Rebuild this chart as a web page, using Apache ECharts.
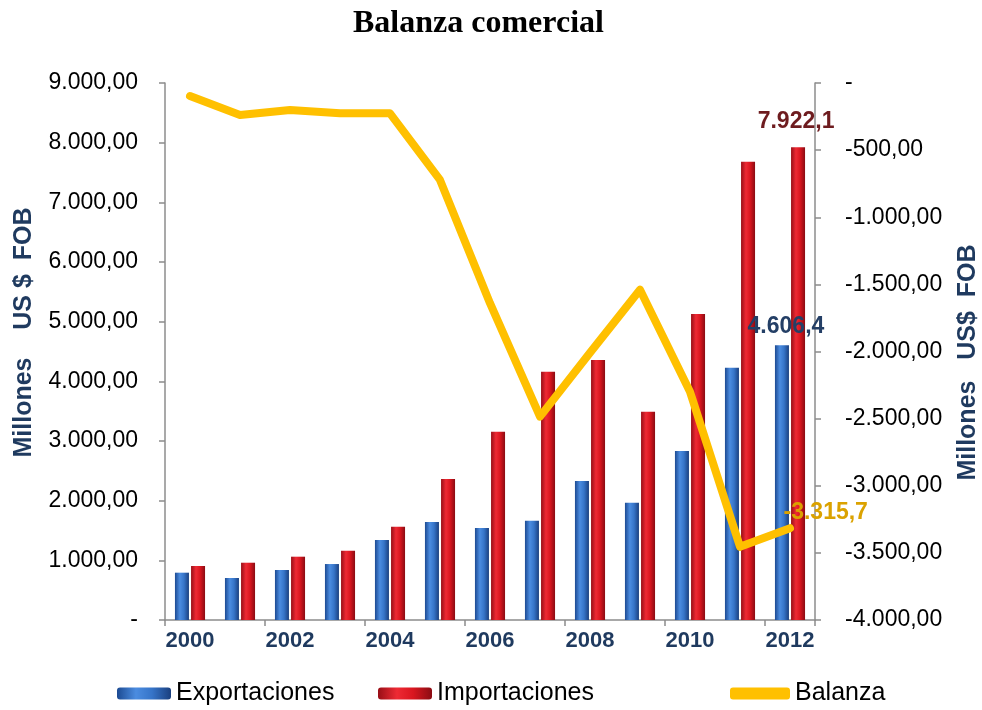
<!DOCTYPE html>
<html>
<head>
<meta charset="utf-8">
<script src="https://cdn.jsdelivr.net/npm/echarts@6/dist/echarts.min.js"></script>
<style>html,body{margin:0;padding:0;background:#fff;}#c{width:982px;height:710px;}</style>
</head>
<body>
<div id="c"></div>
<script>
var years = ['2000','2001','2002','2003','2004','2005','2006','2007','2008','2009','2010','2011','2012'];
var exportaciones = [793, 704, 838, 938, 1341, 1642, 1542, 1664, 2329, 1966, 2832, 4228, 4606.4];
var importaciones = [905, 960, 1061, 1162, 1564, 2363, 3156, 4161, 4357, 3490, 5128, 7681, 7922.1];
var balanza = [-97, -238, -201, -226, -226, -722, -1640, -2485, -2010, -1540, -2300, -3455, -3315.7];

function fmt(v, dec) {
  var neg = v < 0; v = Math.abs(v);
  var s = v.toFixed(dec).split('.');
  var ip = s[0].replace(/\B(?=(\d{3})+(?!\d))/g, '.');
  return (neg ? '-' : '') + ip + (dec > 0 ? ',' + s[1] : '');
}
function axisFmt(v) { return v === 0 ? '-' : fmt(v, 2); }

var G = echarts.graphic.LinearGradient;
var blueGrad = new G(0, 0, 1, 0, [
  {offset: 0, color: '#1c4a92'}, {offset: 0.35, color: '#4b8ce0'},
  {offset: 0.65, color: '#3674c8'}, {offset: 1, color: '#1a3f7e'}]);
var redGrad = new G(0, 0, 1, 0, [
  {offset: 0, color: '#980e16'}, {offset: 0.35, color: '#ee2a34'},
  {offset: 0.65, color: '#d9161f'}, {offset: 1, color: '#8a0c13'}]);

var last = years.length - 1;
function withLast(arr, label) {
  return arr.map(function (v, i) { return i === last ? {value: v, label: label} : v; });
}
var legText = {fontFamily: 'Liberation Sans', fontSize: 25, color: '#000'};

var chart = echarts.init(document.getElementById('c'));
chart.setOption({
  animation: false,
  title: {
    text: 'Balanza comercial', left: 353, top: 8, padding: 0,
    textStyle: {fontFamily: 'Liberation Serif', fontWeight: 'bold', fontSize: 32, color: '#000'}
  },
  legend: [
    {data: ['Exportaciones'], left: 117, top: 681, padding: 0, itemWidth: 54, itemHeight: 12, itemGap: 4, textStyle: legText},
    {data: ['Importaciones'], left: 378, top: 681, padding: 0, itemWidth: 54, itemHeight: 12, itemGap: 4, textStyle: legText},
    {data: ['Balanza'], left: 730, top: 681, padding: 0, itemWidth: 60, itemHeight: 12, itemGap: 4, icon: 'roundRect', textStyle: legText}
  ],
  grid: {left: 165, right: 167, top: 83, bottom: 90, containLabel: false, outerBoundsMode: 'none'},
  xAxis: {
    type: 'category', data: years, boundaryGap: true,
    axisLine: {lineStyle: {color: '#8c8c8c', width: 1.5}},
    axisTick: {show: true, length: 6, lineStyle: {color: '#8c8c8c', width: 1.5}},
    axisLabel: {interval: 1, margin: 10, fontFamily: 'Liberation Sans', fontWeight: 'bold', fontSize: 22, color: '#1f3a5f'}
  },
  yAxis: [
    {
      type: 'value', min: 0, max: 9000, interval: 1000, position: 'left',
      name: 'Millones    US $  FOB', nameLocation: 'middle', nameGap: 128,
      nameTextStyle: {fontFamily: 'Liberation Sans', fontWeight: 'bold', fontSize: 25, color: '#1f3a5f', padding: [0, 0, 0, 38]},
      axisLine: {show: true, lineStyle: {color: '#8c8c8c', width: 1.5}},
      axisTick: {show: true, length: 6, lineStyle: {color: '#8c8c8c', width: 1.5}},
      splitLine: {show: false},
      axisLabel: {formatter: axisFmt, margin: 27, fontFamily: 'Liberation Sans', fontSize: 23, color: '#000'}
    },
    {
      type: 'value', min: -4000, max: 0, interval: 500, position: 'right',
      name: 'Millones   US$  FOB', nameLocation: 'middle', nameGap: 141,
      nameTextStyle: {fontFamily: 'Liberation Sans', fontWeight: 'bold', fontSize: 25, color: '#1f3a5f', padding: [0, 22, 0, 0]},
      axisLine: {show: true, lineStyle: {color: '#8c8c8c', width: 1.5}},
      axisTick: {show: true, length: 6, lineStyle: {color: '#8c8c8c', width: 1.5}},
      splitLine: {show: false},
      axisLabel: {formatter: axisFmt, margin: 30, fontFamily: 'Liberation Sans', fontSize: 23, color: '#000'}
    }
  ],
  series: [
    {
      name: 'Exportaciones', type: 'bar', yAxisIndex: 0, barWidth: 14, barGap: '15%',
      itemStyle: {color: blueGrad},
      data: withLast(exportaciones, {show: true, position: 'top', distance: 7, offset: [4, 0],
        formatter: function (p) { return fmt(p.value, 1); },
        fontFamily: 'Liberation Sans', fontWeight: 'bold', fontSize: 23, color: '#243f66'})
    },
    {
      name: 'Importaciones', type: 'bar', yAxisIndex: 0, barWidth: 14, barGap: '15%',
      itemStyle: {color: redGrad},
      data: withLast(importaciones, {show: true, position: 'top', distance: 14, offset: [-2, 0],
        formatter: function (p) { return fmt(p.value, 1); },
        fontFamily: 'Liberation Sans', fontWeight: 'bold', fontSize: 23, color: '#6e1c1f'})
    },
    {
      name: 'Balanza', type: 'line', yAxisIndex: 1, z: 5,
      symbol: 'circle', symbolSize: 1, showSymbol: true,
      itemStyle: {color: '#ffc000'},
      lineStyle: {color: '#ffc000', width: 8, cap: 'round', join: 'round'},
      data: withLast(balanza, {show: true, position: 'right', distance: 0, offset: [-7, -15],
        formatter: function (p) { return fmt(p.value, 1); },
        fontFamily: 'Liberation Sans', fontWeight: 'bold', fontSize: 23, color: '#dba200'})
    }
  ]
});
</script>
</body>
</html>
